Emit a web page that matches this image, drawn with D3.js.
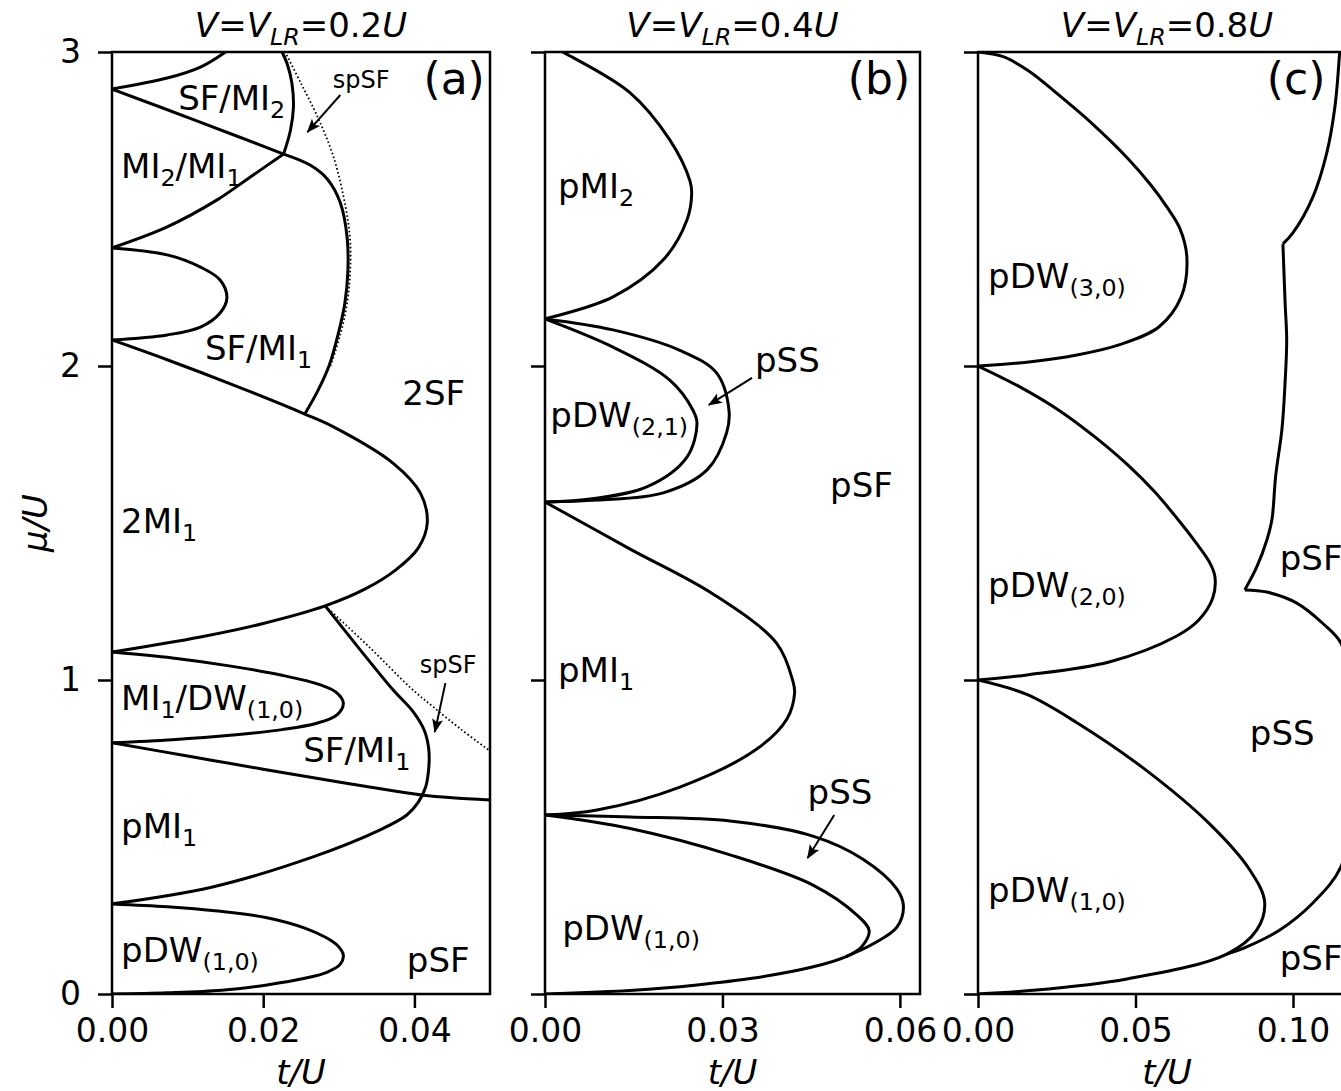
<!DOCTYPE html>
<html>
<head>
<meta charset="utf-8">
<script src="https://cdn.jsdelivr.net/npm/d3@7"></script>
<style>
  body { margin: 0; background: #fff; }
  svg { display: block; font-family: "DejaVu Sans", sans-serif; }
</style>
</head>
<body>
<svg id="chart"></svg>
<script>
// ---- data (t/U, mu/U) ----
const muTicks = [0, 1, 2, 3]
const tTicksA = [0, 0.02, 0.04]
const tTicksB = [0, 0.03, 0.06]
const tTicksC = [0, 0.05, 0.10]
const vValues = ["0.2", "0.4", "0.8"]
const panelTags = ["(a)", "(b)", "(c)"]

// panel (a)  V = V_LR = 0.2U
const aDW10 = [[0,0],[0.0073,0.004],[0.0145,0.012],[0.0205,0.029],[0.0255,0.05],[0.0285,0.07],[0.0302,0.095],[0.0306,0.124],[0.0298,0.155],[0.0283,0.18],[0.0255,0.21],[0.0205,0.243],[0.014,0.264],[0.0073,0.278],[0,0.287]]
const aPMI1 = [[0,0.287],[0.0133,0.341],[0.0265,0.436],[0.0354,0.522],[0.039,0.57],[0.0405,0.61],[0.0415,0.66],[0.0419,0.72],[0.0419,0.78],[0.0413,0.84],[0.0398,0.90],[0.0372,0.968],[0.0327,1.10],[0.0282,1.236]]
const aSep = [[0,0.80],[0.01,0.758],[0.02,0.716],[0.03,0.675],[0.0415,0.632],[0.045,0.625],[0.05,0.618]]
const aMIDW = [[0,0.80],[0.008,0.81],[0.016,0.825],[0.0225,0.842],[0.0272,0.863],[0.0298,0.89],[0.0306,0.927],[0.0297,0.96],[0.0275,0.985],[0.0225,1.015],[0.0155,1.045],[0.008,1.07],[0,1.089]]
const a2MI1 = [[0,1.089],[0.0117,1.137],[0.02,1.18],[0.0282,1.236],[0.0335,1.29],[0.0375,1.35],[0.0405,1.42],[0.0417,1.50],[0.0408,1.595],[0.0372,1.69],[0.0293,1.806],[0.0255,1.847],[0.016,1.94],[0.0073,2.02],[0,2.083]]
const aSFMI1 = [[0.0255,1.847],[0.0272,1.92],[0.0287,2.0],[0.0299,2.1],[0.0308,2.2],[0.0312,2.3],[0.0311,2.41],[0.0302,2.52],[0.0285,2.595],[0.0262,2.64],[0.0227,2.675]]
const aSFMI2 = [[0.0227,2.675],[0.0236,2.75],[0.024,2.825],[0.0238,2.9],[0.0232,2.96],[0.0225,3.0]]
const aMI2Top = [[0,2.882],[0.0113,2.78],[0.0227,2.675]]
const aMI2Low = [[0,2.376],[0.0073,2.443],[0.0139,2.529],[0.0183,2.602],[0.0227,2.675]]
const aTopLobe = [[0,2.882],[0.0073,2.917],[0.0117,2.952],[0.015,3.0],[0.017,3.04]]
const aMidLobe = [[0,2.083],[0.0073,2.099],[0.0117,2.124],[0.0143,2.169],[0.0152,2.217],[0.0143,2.274],[0.0117,2.315],[0.0073,2.354],[0,2.376]]
const aSpSFLow = [[0.0282,1.236],[0.0339,1.108],[0.0395,0.975],[0.0425,0.914],[0.0461,0.844],[0.05,0.774]]
const aSpSFUp = [[0.0289,2.0],[0.0302,2.1],[0.0311,2.2],[0.0315,2.3],[0.0315,2.4],[0.0309,2.506],[0.0293,2.666],[0.0272,2.793],[0.025,2.9],[0.0229,3.0]]

// panel (b)  V = V_LR = 0.4U
const bMI2 = [[0,3.03],[0.003,3.0],[0.0144,2.87],[0.0211,2.72],[0.0245,2.59],[0.0248,2.55],[0.024,2.465],[0.02,2.338],[0.0115,2.22],[0,2.15]]
const bDW21 = [[0,2.15],[0.0115,2.06],[0.0211,1.955],[0.025,1.86],[0.0257,1.818],[0.024,1.71],[0.0172,1.615],[0.006,1.573],[0,1.567]]
const bSS21 = [[0,2.15],[0.0115,2.115],[0.0228,2.05],[0.029,1.978],[0.0311,1.86],[0.0307,1.787],[0.0274,1.669],[0.02,1.596],[0.0088,1.573],[0,1.567]]
const bMI1 = [[0,1.567],[0.0144,1.417],[0.0284,1.274],[0.0392,1.116],[0.0419,0.997],[0.0422,0.959],[0.0409,0.876],[0.0358,0.78],[0.0228,0.659],[0.0088,0.586],[0,0.57]]
const bDW10 = [[0,0.57],[0.0144,0.527],[0.0313,0.443],[0.0453,0.347],[0.0527,0.252],[0.0548,0.202],[0.0535,0.15],[0.051,0.12],[0.045,0.085],[0.035,0.05],[0.0257,0.029],[0.015,0.012],[0,0]]
const bSS10 = [[0,0.57],[0.0144,0.564],[0.0313,0.551],[0.0453,0.503],[0.0537,0.43],[0.0595,0.334],[0.0606,0.28],[0.0595,0.213],[0.0555,0.16],[0.051,0.12]]

// panel (c)  V = V_LR = 0.8U
const cDW30 = [[0,3.0],[0.008,2.985],[0.016,2.94],[0.026,2.86],[0.037,2.765],[0.0472,2.665],[0.055,2.575],[0.06,2.506],[0.064,2.44],[0.0663,2.347],[0.0645,2.22],[0.0575,2.125],[0.045,2.068],[0.0314,2.035],[0.0155,2.012],[0,2.0]]
const cDW20 = [[0,2.0],[0.013,1.935],[0.026,1.857],[0.037,1.775],[0.0472,1.688],[0.056,1.60],[0.0631,1.516],[0.069,1.44],[0.0735,1.375],[0.0752,1.33],[0.0745,1.26],[0.07,1.19],[0.0631,1.14],[0.0419,1.058],[0.0155,1.016],[0,1.0]]
const cDW10 = [[0,1.0],[0.0155,0.954],[0.0314,0.864],[0.0524,0.72],[0.0736,0.541],[0.0863,0.395],[0.091,0.293],[0.0885,0.204],[0.079,0.127],[0.0473,0.048],[0.0155,0.01],[0,0]]
const cBulge = [[0.079,0.127],[0.0853,0.15],[0.0958,0.204],[0.1063,0.29],[0.1152,0.405],[0.1185,0.6],[0.119,0.8],[0.1178,1.0],[0.1152,1.118],[0.1095,1.18],[0.1012,1.245],[0.0917,1.28],[0.0847,1.287]]
const cMid = [[0.0847,1.287],[0.0885,1.36],[0.0917,1.446],[0.0933,1.51],[0.0945,1.65],[0.0965,1.80],[0.0975,1.95],[0.098,2.083],[0.0975,2.2],[0.0968,2.389]]
const cTop = [[0.0968,2.389],[0.0999,2.423],[0.1063,2.538],[0.1107,2.678],[0.1133,2.825],[0.1148,3.0]]

// ---- layout ----
const width = 1341
const height = 1091
const plotTop = 52
const plotBottom = 994

const panels = [
  { left: 112, right: 490, tMax: 0.05, ticks: tTicksA, muLabels: true,
    solid: [aDW10, aPMI1, aSep, aMIDW, a2MI1, aSFMI1, aSFMI2, aMI2Top, aMI2Low, aTopLobe, aMidLobe],
    dotted: [aSpSFLow, aSpSFUp],
    labels: [
      { s: "SF/MI_{2}", t: 0.00875, mu: 2.815 },
      { s: "MI_{2}/MI_{1}", t: 0.0012, mu: 2.6 },
      { s: "SF/MI_{1}", t: 0.0123, mu: 2.02 },
      { s: "2SF", t: 0.0384, mu: 1.876 },
      { s: "2MI_{1}", t: 0.0012, mu: 1.468 },
      { s: "MI_{1}/DW_{(1,0)}", t: 0.0012, mu: 0.904 },
      { s: "SF/MI_{1}", t: 0.0253, mu: 0.739 },
      { s: "pMI_{1}", t: 0.0012, mu: 0.497 },
      { s: "pDW_{(1,0)}", t: 0.0012, mu: 0.102 },
      { s: "pSF", t: 0.039, mu: 0.07 },
      { s: "spSF", t: 0.0292, mu: 2.885, small: true },
      { s: "spSF", t: 0.0407, mu: 1.022, small: true }
    ],
    tagAt: [0.0412, 2.866],
    arrows: [[[0.0302, 2.863], [0.02585, 2.745]], [[0.0441, 0.99], [0.0427, 0.834]]] },
  { left: 545, right: 920, tMax: 0.0634, ticks: tTicksB, muLabels: false,
    solid: [bMI2, bDW21, bSS21, bMI1, bDW10, bSS10],
    dotted: [],
    labels: [
      { s: "pMI_{2}", t: 0.0022, mu: 2.535 },
      { s: "pSS", t: 0.0355, mu: 1.98 },
      { s: "pDW_{(2,1)}", t: 0.0009, mu: 1.806 },
      { s: "pSF", t: 0.0482, mu: 1.583 },
      { s: "pMI_{1}", t: 0.0022, mu: 0.994 },
      { s: "pSS", t: 0.0444, mu: 0.605 },
      { s: "pDW_{(1,0)}", t: 0.0029, mu: 0.172 }
    ],
    tagAt: [0.0512, 2.866],
    arrows: [[[0.035, 1.962], [0.0277, 1.876]], [[0.0489, 0.570], [0.0444, 0.433]]] },
  { left: 978, right: 1356, tMax: 0.12, ticks: tTicksC, muLabels: false,
    solid: [cDW30, cDW20, cDW10, cBulge, cMid, cTop],
    dotted: [],
    labels: [
      { s: "pDW_{(3,0)}", t: 0.0032, mu: 2.25 },
      { s: "pSF", t: 0.0958, mu: 1.35 },
      { s: "pDW_{(2,0)}", t: 0.0032, mu: 1.264 },
      { s: "pSS", t: 0.0863, mu: 0.793 },
      { s: "pDW_{(1,0)}", t: 0.0032, mu: 0.293 },
      { s: "pSF", t: 0.0958, mu: 0.076 }
    ],
    tagAt: [0.0917, 2.866],
    arrows: [] }
]

const fontSize = 34
const tickFont = 33

let svg = d3.select("#chart")
  .attr("width", width)
  .attr("height", height)

let defs = svg.append("defs")
defs.append("marker")
  .attr("id", "head")
  .attr("viewBox", "-14 -6 16 12")
  .attr("refX", 0)
  .attr("refY", 0)
  .attr("markerWidth", 16)
  .attr("markerHeight", 12)
  .attr("markerUnits", "userSpaceOnUse")
  .attr("orient", "auto")
  .append("path")
  .attr("d", "M1,0 L-13,-5.5 L-10,0 L-13,5.5 Z")
  .attr("fill", "#000")

// writes "MI_{1}" style strings with lowered, smaller subscripts
const richText = (sel, str, size) => {
  const parts = str.split(/_\{([^}]*)\}/)
  const shift = size * 0.24
  let offset = 0
  parts.forEach((p, i) => {
    if (!p) return
    const isSub = i % 2 === 1
    const target = isSub ? shift : 0
    sel.append("tspan")
      .attr("dy", target - offset)
      .attr("font-size", isSub ? size * 0.7 : size)
      .text(p)
    offset = target
  })
}

const drawPanel = (p, idx) => {
  const x = d3.scaleLinear().domain([0, p.tMax]).range([p.left, p.right])
  const y = d3.scaleLinear().domain([0, 3]).range([plotBottom, plotTop])

  const g = svg.append("g")

  g.append("clipPath")
    .attr("id", "clip" + idx)
    .append("rect")
    .attr("x", p.left)
    .attr("y", plotTop)
    .attr("width", p.right - p.left)
    .attr("height", plotBottom - plotTop)

  const line = d3.line()
    .x(d => x(d[0]))
    .y(d => y(d[1]))
    .curve(d3.curveCatmullRom.alpha(0.5))

  const curves = g.append("g").attr("clip-path", `url(#clip${idx})`)

  curves.selectAll("path.dot")
    .data(p.dotted)
    .enter()
    .append("path")
    .attr("class", "dot")
    .attr("d", line)
    .attr("fill", "none")
    .attr("stroke", "#000")
    .attr("stroke-width", 1.8)
    .attr("stroke-dasharray", "1.6,2.4")

  curves.selectAll("path.solid")
    .data(p.solid)
    .enter()
    .append("path")
    .attr("class", "solid")
    .attr("d", line)
    .attr("fill", "none")
    .attr("stroke", "#000")
    .attr("stroke-width", 3)
    .attr("stroke-linejoin", "round")

  // axes
  const xAxis = d3.axisBottom(x)
    .tickValues(p.ticks)
    .tickFormat(d3.format(".2f"))
    .tickSize(14)
    .tickPadding(11)

  const yAxis = d3.axisLeft(y)
    .tickValues(muTicks)
    .tickFormat(p.muLabels ? d3.format("d") : "")
    .tickSize(14)
    .tickPadding(17)

  const gx = g.append("g")
    .attr("transform", "translate(0," + plotBottom + ")")
    .call(xAxis)
  const gy = g.append("g")
    .attr("transform", "translate(" + p.left + ",0)")
    .call(yAxis)

  ;[gx, gy].forEach(ax => {
    ax.attr("font-family", null).attr("font-size", tickFont)
    ax.select(".domain").remove()
    ax.selectAll(".tick line").attr("stroke-width", 2.5)
    ax.selectAll(".tick text").attr("fill", "#000")
  })

  // frame
  g.append("rect")
    .attr("x", p.left)
    .attr("y", plotTop)
    .attr("width", p.right - p.left)
    .attr("height", plotBottom - plotTop)
    .attr("fill", "none")
    .attr("stroke", "#000")
    .attr("stroke-width", 2.5)

  // phase labels
  p.labels.forEach(l => {
    const size = l.small ? 24 : fontSize
    const txt = g.append("text")
      .attr("x", x(l.t))
      .attr("y", y(l.mu))
      .attr("font-size", size)
    richText(txt, l.s, size)
  })

  g.append("text")
    .attr("x", x(p.tagAt[0]))
    .attr("y", y(p.tagAt[1]))
    .attr("font-size", 44)
    .text(panelTags[idx])

  // arrows
  g.selectAll("line.arrow")
    .data(p.arrows)
    .enter()
    .append("line")
    .attr("class", "arrow")
    .attr("x1", d => x(d[0][0]))
    .attr("y1", d => y(d[0][1]))
    .attr("x2", d => x(d[1][0]))
    .attr("y2", d => y(d[1][1]))
    .attr("stroke", "#000")
    .attr("stroke-width", 2)
    .attr("marker-end", "url(#head)")

  // title  V=V_LR=0.xU
  const cx = (p.left + p.right) / 2
  const title = g.append("text")
    .attr("x", cx)
    .attr("y", 37)
    .attr("text-anchor", "middle")
    .attr("font-size", fontSize)
  title.append("tspan").attr("font-style", "italic").text("V")
  title.append("tspan").text("=")
  title.append("tspan").attr("font-style", "italic").text("V")
  title.append("tspan").attr("font-style", "italic").attr("font-size", fontSize * 0.7).attr("dy", 8).text("LR")
  title.append("tspan").attr("dy", -8).text("=" + vValues[idx])
  title.append("tspan").attr("font-style", "italic").text("U")

  // x label
  g.append("text")
    .attr("x", cx)
    .attr("y", 1084)
    .attr("text-anchor", "middle")
    .attr("font-size", fontSize)
    .attr("font-style", "italic")
    .text("t/U")
}

panels.forEach(drawPanel)

svg.append("text")
  .attr("transform", "translate(47," + (plotTop + plotBottom) / 2 + ") rotate(-90)")
  .attr("text-anchor", "middle")
  .attr("font-size", fontSize)
  .attr("font-style", "italic")
  .text("μ/U")
</script>
</body>
</html>
